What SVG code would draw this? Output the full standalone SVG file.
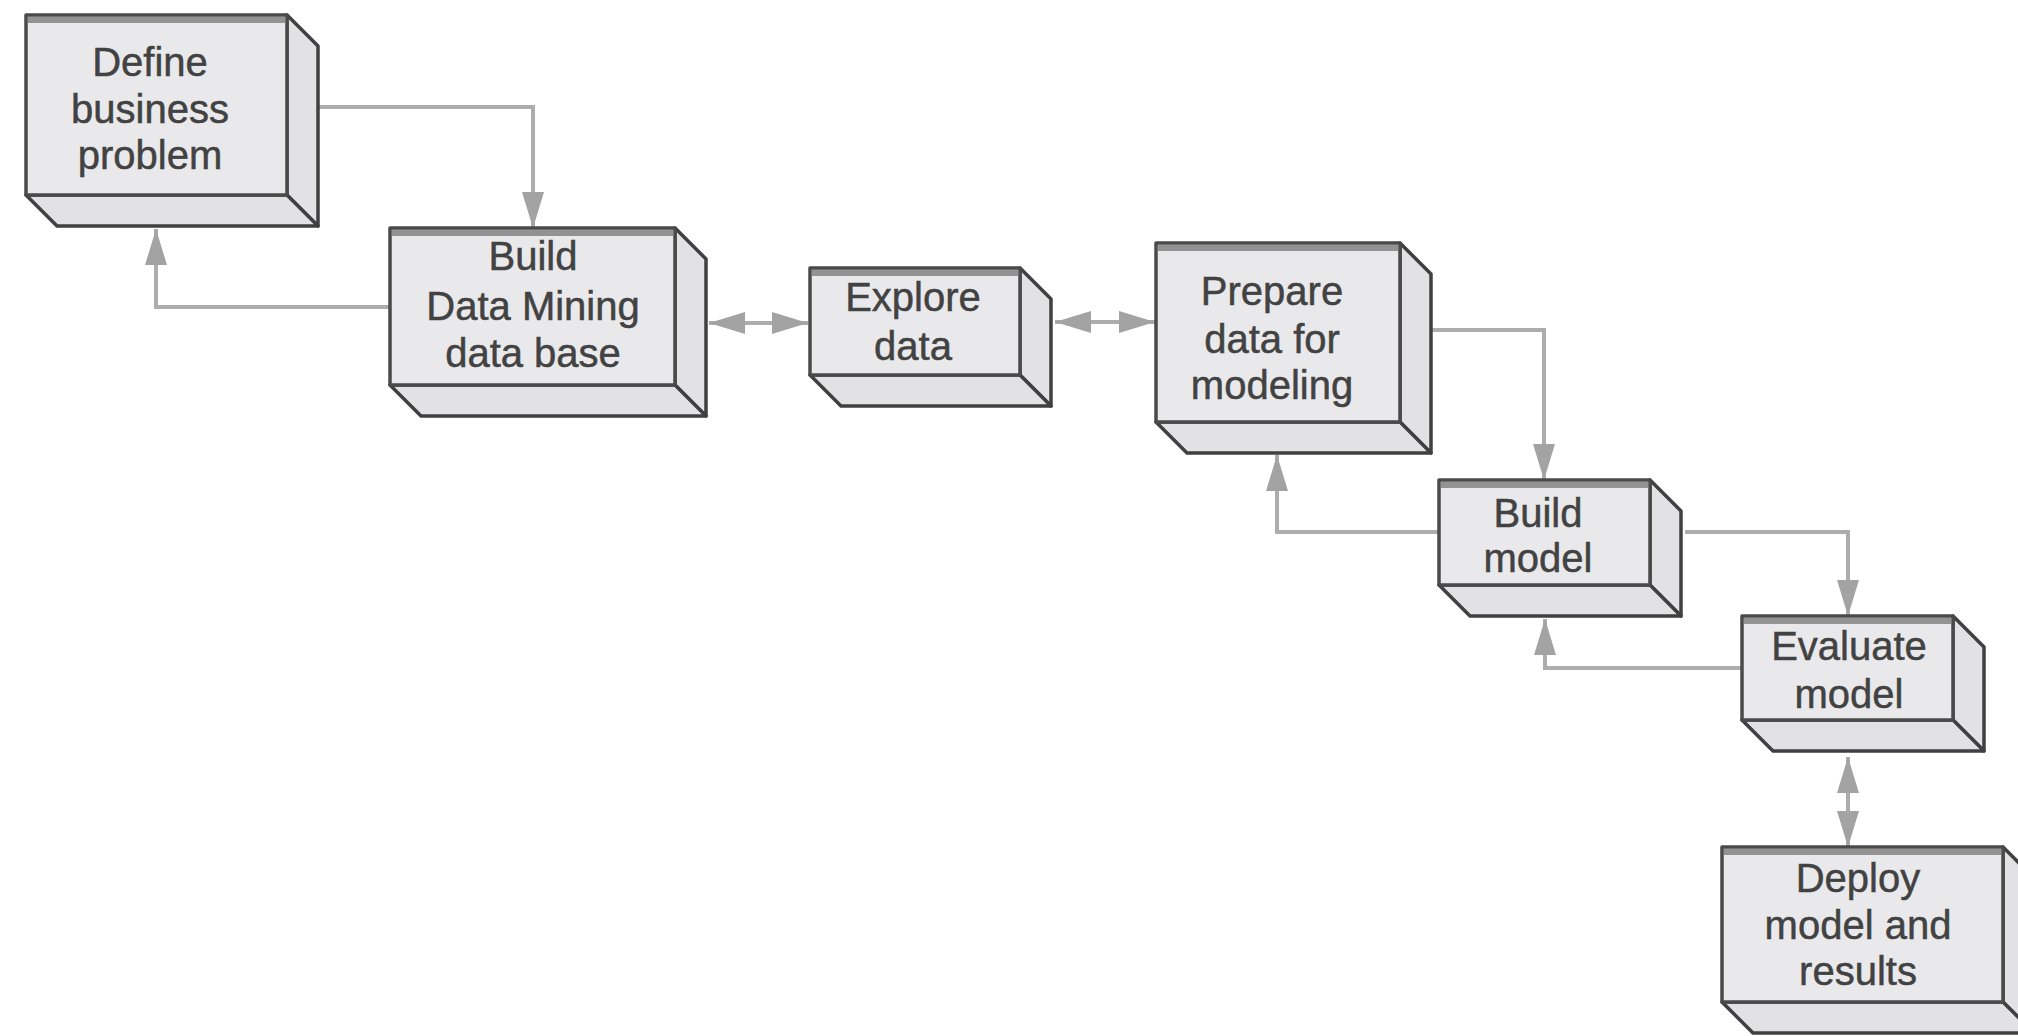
<svg xmlns="http://www.w3.org/2000/svg" width="2018" height="1036" viewBox="0 0 2018 1036">
  <defs>
    <style>
      .front { fill: #e9e9eb; stroke: #4a4a4a; stroke-width: 3.5; stroke-linejoin: round; }
      .side { fill: #e2e2e4; stroke: #404040; stroke-width: 3.5; stroke-linejoin: round; }
      .bevel { stroke: #929292; stroke-width: 6; }
      .label { font-family: "Liberation Sans", Arial, Helvetica, sans-serif; font-size: 40px; fill: #424242; stroke: #424242; stroke-width: 0.5; text-anchor: middle; }
      .conn { fill: none; stroke: #adadad; stroke-width: 4; }
      .one { marker-end: url(#head); }
      .two { marker-start: url(#head); marker-end: url(#head); }
    </style>
    <marker id="head" markerUnits="userSpaceOnUse" markerWidth="36" markerHeight="22" viewBox="0 0 36 22" refX="36" refY="11" orient="auto-start-reverse">
      <path d="M0,0 L36,11 L0,22 z" fill="#a3a3a3"/>
    </marker>
  </defs>
  <rect width="2018" height="1036" fill="#ffffff"/>

  <!-- connectors -->
  <g id="connectors">
    <path class="conn one" d="M317,107 H533 V228"/>
    <path class="conn one" d="M390,307 H156 V229"/>
    <path class="conn two" d="M709,323 H808"/>
    <path class="conn two" d="M1055,322 H1155"/>
    <path class="conn one" d="M1432,330 H1544 V480"/>
    <path class="conn one" d="M1439,532 H1277 V455"/>
    <path class="conn one" d="M1685,532 H1848 V616"/>
    <path class="conn one" d="M1742,668 H1545 V619"/>
    <path class="conn two" d="M1848,757 V847"/>
  </g>

  <!-- process steps, each an oblique box -->
  <g id="define-problem" transform="translate(26,15)">
    <polygon class="side" points="261,0 292,31 292,211 261,180"/>
    <polygon class="side" points="0,180 261,180 292,211 31,211"/>
    <rect class="front" x="0" y="0" width="261" height="180"/>
    <line class="bevel" x1="2" y1="5" x2="259" y2="5"/>
    <text class="label" x="124" y="61">Define</text>
    <text class="label" x="124" y="108">business</text>
    <text class="label" x="124" y="154">problem</text>
  </g>

  <g id="build-database" transform="translate(390,228)">
    <polygon class="side" points="285,0 316,31 316,188 285,157"/>
    <polygon class="side" points="0,157 285,157 316,188 31,188"/>
    <rect class="front" x="0" y="0" width="285" height="157"/>
    <line class="bevel" x1="2" y1="5" x2="283" y2="5"/>
    <text class="label" x="143" y="42">Build</text>
    <text class="label" x="143" y="92">Data Mining</text>
    <text class="label" x="143" y="139">data base</text>
  </g>

  <g id="explore-data" transform="translate(810,268)">
    <polygon class="side" points="210,0 241,31 241,138 210,107"/>
    <polygon class="side" points="0,107 210,107 241,138 31,138"/>
    <rect class="front" x="0" y="0" width="210" height="107"/>
    <line class="bevel" x1="2" y1="5" x2="208" y2="5"/>
    <text class="label" x="103" y="43">Explore</text>
    <text class="label" x="103" y="92">data</text>
  </g>

  <g id="prepare-data" transform="translate(1156,243)">
    <polygon class="side" points="244,0 275,31 275,210 244,179"/>
    <polygon class="side" points="0,179 244,179 275,210 31,210"/>
    <rect class="front" x="0" y="0" width="244" height="179"/>
    <line class="bevel" x1="2" y1="5" x2="242" y2="5"/>
    <text class="label" x="116" y="62">Prepare</text>
    <text class="label" x="116" y="110">data for</text>
    <text class="label" x="116" y="156">modeling</text>
  </g>

  <g id="build-model" transform="translate(1439,480)">
    <polygon class="side" points="211,0 242,31 242,136 211,105"/>
    <polygon class="side" points="0,105 211,105 242,136 31,136"/>
    <rect class="front" x="0" y="0" width="211" height="105"/>
    <line class="bevel" x1="2" y1="5" x2="209" y2="5"/>
    <text class="label" x="99" y="47">Build</text>
    <text class="label" x="99" y="92">model</text>
  </g>

  <g id="evaluate-model" transform="translate(1742,616)">
    <polygon class="side" points="211,0 242,31 242,135 211,104"/>
    <polygon class="side" points="0,104 211,104 242,135 31,135"/>
    <rect class="front" x="0" y="0" width="211" height="104"/>
    <line class="bevel" x1="2" y1="5" x2="209" y2="5"/>
    <text class="label" x="107" y="44">Evaluate</text>
    <text class="label" x="107" y="92">model</text>
  </g>

  <g id="deploy-results" transform="translate(1722,847)">
    <polygon class="side" points="281,0 312,31 312,186 281,155"/>
    <polygon class="side" points="0,155 281,155 312,186 31,186"/>
    <rect class="front" x="0" y="0" width="281" height="155"/>
    <line class="bevel" x1="2" y1="5" x2="279" y2="5"/>
    <text class="label" x="136" y="45">Deploy</text>
    <text class="label" x="136" y="92">model and</text>
    <text class="label" x="136" y="138">results</text>
  </g>
</svg>
